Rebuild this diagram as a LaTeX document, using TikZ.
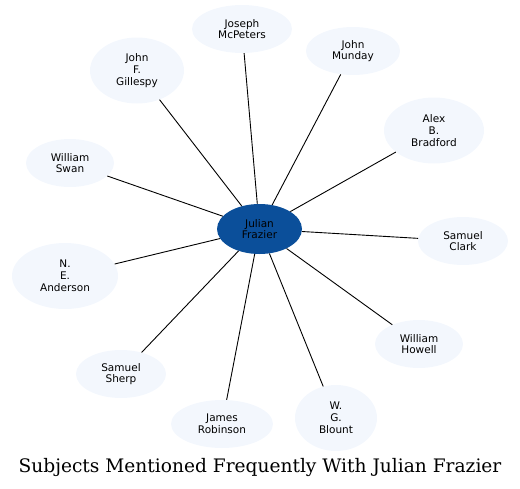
\documentclass[tikz,border=0pt]{standalone}
\usepackage{fontspec}
\setmainfont{DejaVu Serif}
\setsansfont{DejaVu Sans}
\usepackage{tikz}
\usetikzlibrary{shapes.geometric}
\definecolor{hubblue}{RGB}{11,79,154}
\definecolor{leaffill}{RGB}{243,247,253}

\tikzset{
  person/.style={ellipse,fill=leaffill,inner sep=0pt,align=center,
    font=\sffamily\fontsize{10.5}{11.8}\selectfont},
  hub/.style={person,fill=hubblue},
  link/.style={black,line width=0.9pt}
}

\begin{document}
\begin{tikzpicture}[x=1pt,y=-1pt]
    \useasboundingbox (0,0) rectangle (520,488);
    % centre person
    \node[hub,minimum width=85,minimum height=50] (frazier) at (259.5,229) {Julian\\Frazier};
    % people around
    \node[person,minimum width=100,minimum height=48] (mcpeters) at (242,29) {Joseph\\McPeters};
    \node[person,minimum width=94,minimum height=48] (munday) at (353,51) {John\\Munday};
    \node[person,minimum width=94,minimum height=66] (gillespy) at (137,70.5) {John\\F.\\Gillespy};
    \node[person,minimum width=100,minimum height=66] (bradford) at (434,130.5) {Alex\\B.\\Bradford};
    \node[person,minimum width=88,minimum height=48] (swan) at (70,163) {William\\Swan};
    \node[person,minimum width=90,minimum height=48] (clark) at (463,241) {Samuel\\Clark};
    \node[person,minimum width=106,minimum height=66] (anderson) at (65,276) {N.\\E.\\Anderson};
    \node[person,minimum width=88,minimum height=48] (howell) at (419,344) {William\\Howell};
    \node[person,minimum width=90,minimum height=48] (sherp) at (121,374) {Samuel\\Sherp};
    \node[person,minimum width=82,minimum height=66] (blount) at (336,418) {W.\\G.\\Blount};
    \node[person,minimum width=102,minimum height=48] (robinson) at (222,424) {James\\Robinson};
    % links to the centre
    \foreach \p in {mcpeters,munday,gillespy,bradford,swan,clark,anderson,howell,sherp,blount,robinson}
      \draw[link] (frazier) -- (\p);
    % title
    \node[anchor=base,inner sep=0pt,font=\fontsize{18.6}{22}\selectfont] (title) at (260,472) {Subjects Mentioned Frequently With Julian Frazier};
\end{tikzpicture}
\end{document}
